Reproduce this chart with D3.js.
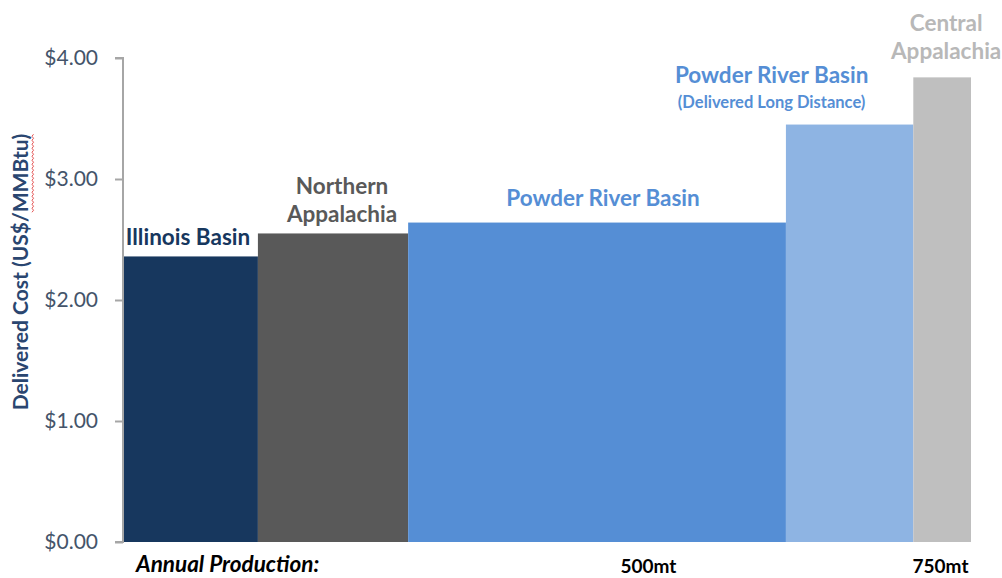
<!DOCTYPE html>
<html>
<head>
<meta charset="utf-8">
<script src="https://cdn.jsdelivr.net/npm/d3@7"></script>
<style>
  html, body { margin: 0; padding: 0; background: #fff; }
  svg { display: block; font-family: Lato, "Open Sans", sans-serif; }
</style>
</head>
<body>
<svg id="chart" width="1002" height="578"></svg>
<script>
// Coal supply curve: delivered cost by basin, bar width = annual production
const basins = ["Illinois Basin", "Northern Appalachia", "Powder River Basin",
                "Powder River Basin (Delivered Long Distance)", "Central Appalachia"];
const labelLines = [["Illinois Basin"], ["Northern", "Appalachia"], ["Powder River Basin"],
                    ["Powder River Basin", "(Delivered Long Distance)"], ["Central", "Appalachia"]];
const costs = [2.36, 2.55, 2.64, 3.45, 3.84];          // US$/MMBtu
const production = [123, 138, 347, 117, 53];           // mt per year
const yTickValues = [0, 1, 2, 3, 4];
const xTickValues = [500, 750];
const xTickLabels = ["500mt", "750mt"];
const yTitle = "Delivered Cost (US$/MMBtu)";
const xTitle = "Annual Production:";

// styling / layout
const barColors = ["#17375e", "#595959", "#558ed5", "#8eb4e3", "#bfbfbf"];
const labelColors = ["#17375e", "#595959", "#558ed5", "#558ed5", "#b8b8b8"];
const labelLayout = [
  { dx: -3, gap: 11, lh: 27, sizes: [22.5] },
  { dx: 9, gap: 11, lh: 28, sizes: [22.5, 22.5] },
  { dx: 6, gap: 17, lh: 27, sizes: [22.5] },
  { dx: -78, gap: 17, lh: 25, sizes: [22.5, 16.5] },
  { dx: 4, gap: 18, lh: 28, sizes: [22.5, 22.5] }
];

const svg = d3.select("#chart");
const plotLeft = 124, plotRight = 971, plotTop = 58, plotBottom = 542;

const cumEnd = d3.cumsum(production);
const bars = basins.map((b, i) => ({
  name: b, cost: costs[i], start: cumEnd[i] - production[i], end: cumEnd[i], i
}));

const x = d3.scaleLinear().domain([0, d3.sum(production)]).range([plotLeft, plotRight]);
const y = d3.scaleLinear().domain([0, 4]).range([plotBottom, plotTop]);

// bars
svg.append("g").selectAll("rect").data(bars).join("rect")
  .attr("x", d => x(d.start))
  .attr("width", d => x(d.end) - x(d.start))
  .attr("y", d => y(d.cost))
  .attr("height", d => y(0) - y(d.cost))
  .attr("fill", d => barColors[d.i]);

// y axis
const yAxis = d3.axisLeft(y).tickValues(yTickValues).tickFormat(d3.format("$.2f"))
  .tickSize(8).tickPadding(17);
const ga = svg.append("g").attr("transform", `translate(${plotLeft - 1},0)`).call(yAxis);
ga.select(".domain").attr("stroke", "#a6a6a6").attr("stroke-width", 2)
  .attr("d", `M-8,${plotTop}H0V${plotBottom}H-8`);
ga.selectAll(".tick line").attr("stroke", "#a6a6a6").attr("stroke-width", 2);
ga.selectAll(".tick text")
  .attr("fill", "#44546a").attr("font-size", 21).attr("font-family", "Lato, sans-serif");

// y title
const tg = svg.append("g").attr("transform", `translate(28,272) rotate(-90)`);
const tt = tg.append("text")
  .attr("text-anchor", "middle")
  .attr("font-size", 21).attr("font-weight", 700)
  .attr("fill", "#2a4670")
  .text(yTitle);
// spell-check squiggle under "MMBtu)"
{
  const node = tt.node();
  const full = node.getComputedTextLength();
  const startIdx = yTitle.indexOf("MMBtu");
  const x0 = -full / 2 + node.getSubStringLength(0, startIdx);
  const x1 = -full / 2 + full;
  const pts = [];
  for (let px = x0, k = 0; px <= x1; px += 2, k++) pts.push([px, 4 + (k % 2 ? 1.5 : 0)]);
  tg.append("path").attr("d", d3.line()(pts)).attr("fill", "none")
    .attr("stroke", "#e04040").attr("stroke-width", 0.9);
}

// bar labels
bars.forEach(d => {
  const lay = labelLayout[d.i];
  const cx = (x(d.start) + x(d.end)) / 2 + lay.dx;
  const lines = labelLines[d.i];
  const baseY = y(d.cost) - lay.gap;
  lines.forEach((ln, j) => {
    svg.append("text")
      .attr("x", cx)
      .attr("y", baseY - (lines.length - 1 - j) * lay.lh)
      .attr("text-anchor", "middle")
      .attr("font-size", lay.sizes[j]).attr("font-weight", 700)
      .attr("fill", labelColors[d.i])
      .text(ln);
  });
});

// x annotations
svg.append("text").attr("x", 136).attr("y", 572)
  .attr("font-size", 22.5).attr("font-weight", 700).attr("font-style", "italic")
  .attr("fill", "#000").text(xTitle);
const xNudge = [-20, 0];
svg.append("g").selectAll("text").data(xTickValues).join("text")
  .attr("x", (v, i) => x(v) + xNudge[i])
  .attr("y", 573)
  .attr("text-anchor", "middle")
  .attr("font-size", 19).attr("font-weight", 700).attr("fill", "#000")
  .text((v, i) => xTickLabels[i]);
</script>
</body>
</html>
